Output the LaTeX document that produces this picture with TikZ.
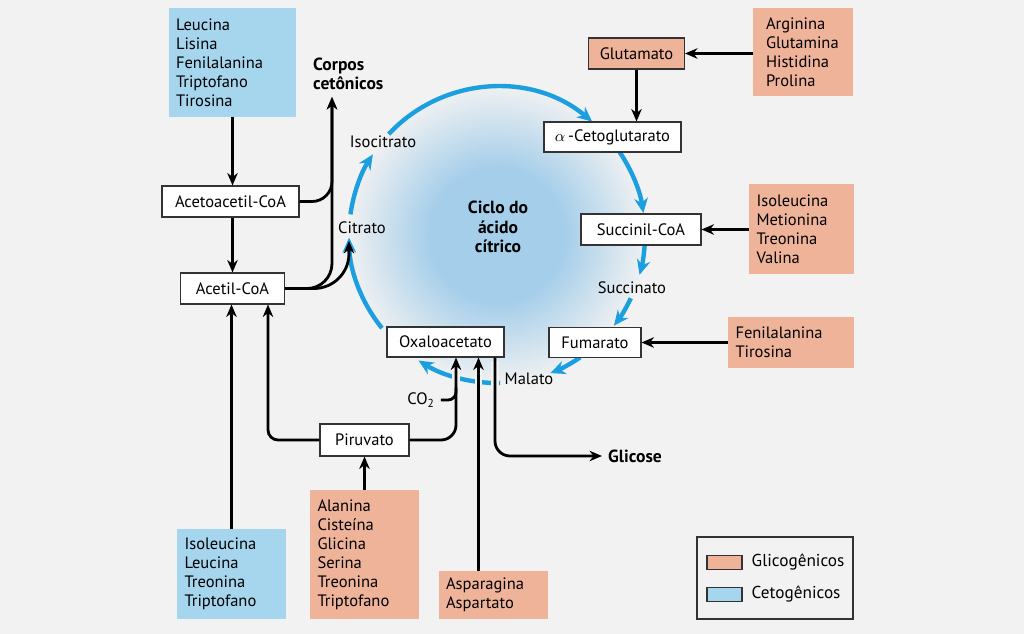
\documentclass[tikz,border=0pt]{standalone}
\usepackage{fontspec}
\setmainfont{PT Sans}
\usetikzlibrary{arrows.meta}
\definecolor{bgc}{RGB}{242,242,242}
\definecolor{glico}{RGB}{239,179,154}
\definecolor{ceto}{RGB}{166,213,238}
\definecolor{ciclo}{RGB}{27,159,224}
\definecolor{ciclofundo}{RGB}{165,206,234}
\pgfdeclareradialshading{ciclofade}{\pgfpoint{0bp}{0bp}}{color(0bp)=(ciclofundo); color(11bp)=(ciclofundo); color(25bp)=(bgc); color(50bp)=(bgc)}
\tikzset{
  metab/.style={draw=black!80, fill=white, line width=0.6pt, minimum height=0.62cm, inner sep=0pt},
  aalist/.style={align=left, inner xsep=0.15cm, inner ysep=0pt},
  glicobox/.style={aalist, fill=glico},
  cetobox/.style={aalist, fill=ceto},
  negrito/.style={font=\fontsize{10}{11}\selectfont\bfseries},
  seta/.style={line width=1.6pt, -{Stealth[length=0.25cm, width=0.21cm]}},
  cruza/.style={preaction={draw=bgc, line width=4.5pt, -, shorten <=2pt, shorten >=2pt}},
  cicloseta/.style={draw=ciclo, line width=2.5pt, -{Stealth[length=0.3cm, width=0.27cm]}}
}
\begin{document}
\begin{tikzpicture}[x=0.02cm, y=-0.02cm, font=\fontsize{9.4}{10.8}\selectfont]
  \fill[bgc] (0,0) rectangle (1024,634);
  \coordinate (cc) at (497,235);
  \shade[shading=ciclofade] (cc) circle[radius=152];
  \begin{scope}[cicloseta]
    \draw (cc) ++(141:148) arc[start angle=141, end angle=179, radius=148];
    \draw (cc) ++(188:148) arc[start angle=188, end angle=213, radius=148];
    \draw (cc) ++(223:148) arc[start angle=223, end angle=310, radius=148];
    \draw (cc) ++(326:148) arc[start angle=326, end angle=351.5, radius=148];
    \draw (cc) ++(4:148) arc[start angle=4, end angle=15.6, radius=148];
    \draw (cc) ++(25.3:148) arc[start angle=25.3, end angle=37.8, radius=148];
    \draw (cc) ++(55.8:148) arc[start angle=55.8, end angle=68.9, radius=148];
    \draw (cc) ++(88.8:148) arc[start angle=88.8, end angle=122, radius=148];
  \end{scope}

  \node[cetobox, text width=2.26cm, minimum height=2.18cm] (leuc) at (232.5,62.5) {Leucina\\Lisina\\Fenilalanina\\Triptofano\\Tirosina};
  \node[glicobox, inner xsep=0.26cm, text width=1.48cm, minimum height=1.76cm] (arg) at (803,52) {Arginina\\Glutamina\\Histidina\\Prolina};
  \node[glicobox, text width=1.8cm, minimum height=1.8cm] (isoR) at (801.5,229) {Isoleucina\\Metionina\\Treonina\\Valina};
  \node[glicobox, text width=2.22cm, minimum height=1.04cm] (fenR) at (791,342.5) {Fenilalanina\\Tirosina};
  \node[cetobox, text width=1.88cm, minimum height=1.8cm] (isoB) at (231.5,574) {Isoleucina\\Leucina\\Treonina\\Triptofano};
  \node[glicobox, text width=1.88cm, minimum height=2.58cm] (ala) at (364.5,554.5) {Alanina\\Cisteína\\Glicina\\Serina\\Treonina\\Triptofano};
  \node[glicobox, text width=1.9cm, minimum height=0.96cm] (asp) at (493.5,595) {Asparagina\\Aspartato};

  \node[metab, minimum width=2.74cm] (acac) at (230.5,201.5) {Acetoacetil-CoA};
  \node[metab, minimum width=2.08cm] (acetil) at (232.5,288.5) {Acetil-CoA};
  \node[metab, minimum width=2.74cm, minimum height=0.6cm] (akg) at (612.5,137) {$\alpha$\,-Cetoglutarato};
  \node[metab, minimum width=2.4cm] (succ) at (641,229.5) {Succinil-CoA};
  \node[metab, minimum width=1.84cm, minimum height=0.6cm] (fum) at (595,342.5) {Fumarato};
  \node[metab, minimum width=2.34cm, minimum height=0.6cm] (oxa) at (445.5,342) {Oxaloacetato};
  \node[metab, minimum width=1.78cm, minimum height=0.64cm] (pir) at (364.5,440) {Piruvato};
  \node[metab, fill=glico, minimum width=1.92cm] (glut) at (636.5,53.5) {Glutamato};

  \node (isocit) at (383,142) {Isocitrato};
  \node (cit) at (362,228) {Citrato};
  \node (succin) at (632,288) {Succinato};
  \node (mal) at (529,379) {Malato};
  \node (co2) at (421,400) {CO\textsubscript{2}};
  \node[negrito, align=center] (ciclotxt) at (498,227) {Ciclo do\\ácido\\cítrico};
  \node[negrito, align=left, anchor=west] (corpos) at (307,74) {Corpos\\cetônicos};
  \node[negrito, anchor=west] (glic) at (602,456) {Glicose};

  \node[draw=black!80, line width=0.6pt, minimum width=3.12cm, minimum height=1.64cm] (leg) at (775,578) {};
  \node[draw=black!80, fill=glico, line width=0.6pt, minimum width=0.7cm, minimum height=0.28cm, inner sep=0pt] (legG) at (724.5,562.5) {};
  \node[draw=black!80, fill=ceto, line width=0.6pt, minimum width=0.7cm, minimum height=0.28cm, inner sep=0pt] (legC) at (724.5,594.5) {};
  \node[anchor=west, xshift=0.06cm, font=\fontsize{9.8}{11}\selectfont] (legGt) at (legG.east) {Glicogênicos};
  \node[anchor=west, xshift=0.06cm, font=\fontsize{9.8}{11}\selectfont] (legCt) at (legC.east) {Cetogênicos};

  \coordinate (cetotip) at (332,97);
  \coordinate (cittip) at (349,241);
  \coordinate (oxain) at ([xshift=0.21cm]oxa.south);
  \coordinate (oxaout) at ([xshift=0.99cm]oxa.south);
  \coordinate (aspin) at ([xshift=-0.3cm]asp.north);

  \begin{scope}[seta]
    \draw (leuc.south) -- (leuc.south |- acac.north);
    \draw (acetil.north |- acac.south) -- (acetil.north);
    \draw (arg.west |- glut.east) -- (glut.east);
    \draw (glut.south) -- (glut.south |- akg.north);
    \draw (isoR.west |- succ.east) -- (succ.east);
    \draw (fenR.west |- fum.east) -- (fum.east);
    \draw (isoB.north) -- (isoB.north |- acetil.south);
    \draw (ala.north) -- (ala.north |- pir.south);
    \draw[rounded corners=0.4cm] (acac.east) -| (cetotip);
    \draw[rounded corners=0.5cm] (acetil.east) -| (cetotip);
    \draw[rounded corners=0.7cm] (acetil.east) -| (cittip);
    \draw[rounded corners=0.2cm] (pir.west) -| ([xshift=0.71cm]acetil.south);
    \draw[cruza, rounded corners=0.3cm] (pir.east) -| (oxain);
    \draw[cruza] (aspin) -- (aspin |- oxa.south);
    \draw[cruza, rounded corners=0.3cm] (oxaout) |- (glic.west);
  \end{scope}
  \draw[line width=1.6pt, rounded corners=0.16cm] (co2.east) -| ([yshift=-0.6cm]oxain);
\end{tikzpicture}
\end{document}
